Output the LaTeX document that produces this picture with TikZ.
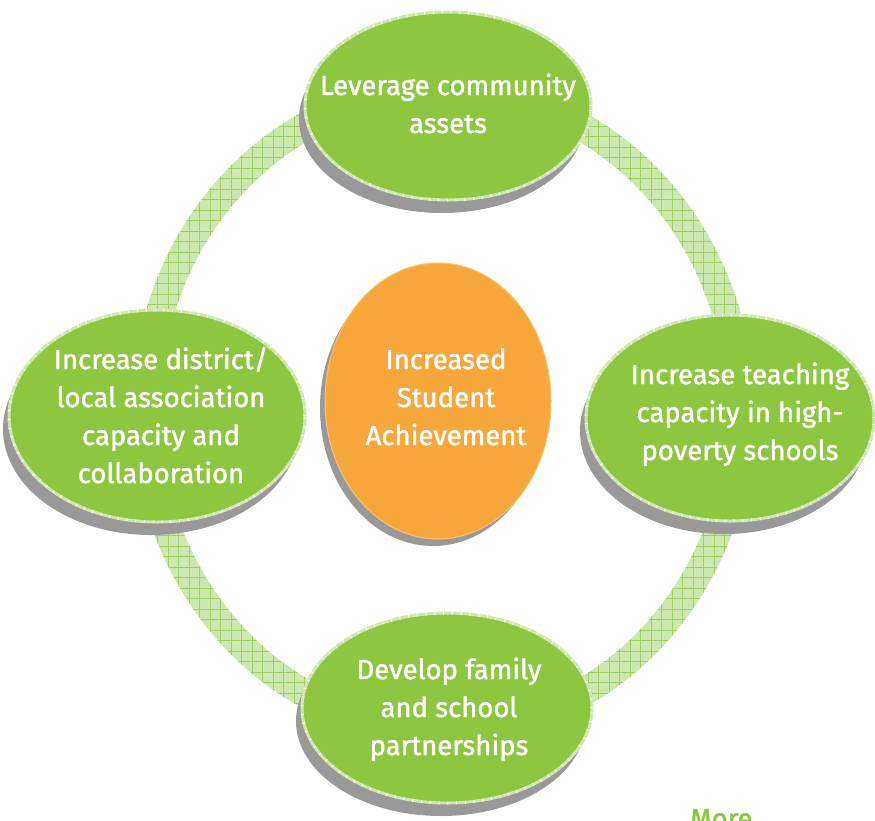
\documentclass[tikz,border=0pt]{standalone}
\usepackage{fontspec}
\setmainfont{Fira Sans}[FakeBold=1.6]
\usetikzlibrary{shapes.geometric,shadows}

\definecolor{leaf}{HTML}{8DC63F}
\definecolor{amber}{HTML}{F8A73A}
\definecolor{ringfill}{HTML}{CDE8AE}
\definecolor{ringline}{HTML}{9FCF62}
\definecolor{shade}{HTML}{999999}
\definecolor{rim}{HTML}{CFE8B2}

\begin{document}
\begin{tikzpicture}[x=1pt,y=-1pt,
  goal/.style={ellipse, fill=leaf, draw=rim, line width=3pt, inner sep=0pt,
    general shadow={fill=shade, shadow xshift=-6pt, shadow yshift=-13pt},
    postaction={draw=white, line width=3pt, dash pattern=on 0.8pt off 8pt}},
  hub/.style={ellipse, fill=amber, draw=amber!70!white, line width=1pt, inner sep=0pt,
    general shadow={fill=shade, shadow xshift=-5pt, shadow yshift=-7pt}},
  words/.style={text=white, align=center, inner sep=0pt, anchor=base,
    font=\fontsize{27.5}{38}\selectfont}
]
\useasboundingbox (0,0) rectangle (875,820);
\fill[white] (0,0) rectangle (875,820);

% hatched ring joining the four goals
\fill[ringfill, even odd rule]
  (443,410) ellipse [x radius=311, y radius=334]
  (443,410) ellipse [x radius=283, y radius=306];
\begin{scope}[even odd rule]
  \clip
    (443,410) ellipse [x radius=311, y radius=334]
    (443,410) ellipse [x radius=283, y radius=306];
  \draw[ringline, line width=0.9pt] (100,50) grid[step=10.5pt] (800,770);
\end{scope}

% four goals
\node[goal, minimum width=286, minimum height=188] (top) at (448,106) {};
\node[goal, minimum width=296, minimum height=212] (left) at (157,416) {};
\node[goal, minimum width=288, minimum height=206] (right) at (730,418) {};
\node[goal, minimum width=290, minimum height=190] (bottom) at (447,708) {};

% central outcome
\node[hub, minimum width=226, minimum height=276] (hub) at (438,401) {};

% labels (anchored at the baseline of their last line)
\node[words] (toptext) at (448,133) {Leverage community\\assets};
\node[words] (lefttext) at (161,483) {Increase district/\\local association\\capacity and\\collaboration};
\node[words] (righttext) at (740,460) {Increase teaching\\capacity in high-\\poverty schools};
\node[words] (bottomtext) at (449,755) {Develop family\\and school\\partnerships};
\node[words] (hubtext) at (446,445) {Increased\\Student\\Achievement};

\begin{scope}
  \clip (0,0) rectangle (875,820);
  \node[text=leaf, inner sep=0pt, anchor=base west,
    font=\fontsize{27.5}{38}\selectfont] (more) at (690,828) {More};
\end{scope}
\end{tikzpicture}
\end{document}
